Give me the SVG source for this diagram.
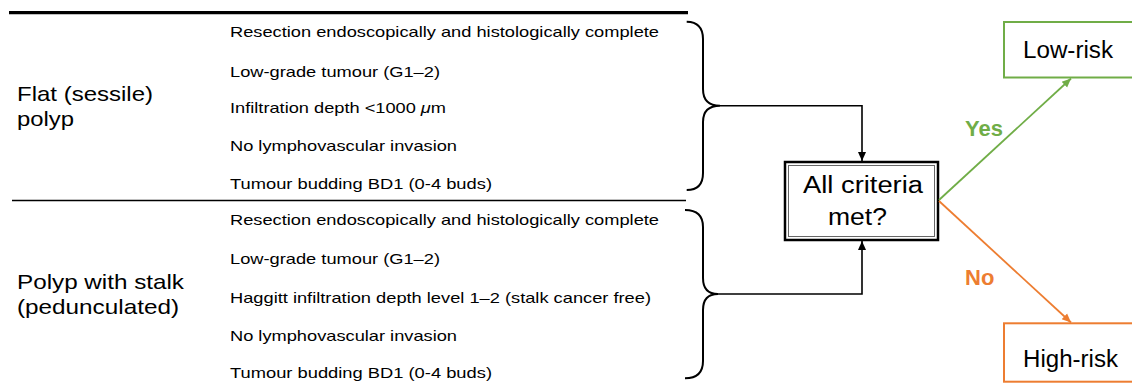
<svg xmlns="http://www.w3.org/2000/svg" width="1132" height="383" viewBox="0 0 1132 383">
<style>
  .sm { font-family: "Liberation Sans", Arial, sans-serif; font-size: 15px; fill: #000; }
  .lg { font-family: "Liberation Sans", Arial, sans-serif; font-size: 21px; fill: #000; }
  .bx { font-family: "Liberation Sans", Arial, sans-serif; font-size: 23px; fill: #000; }
  .lbl { font-family: "Liberation Sans", Arial, sans-serif; font-size: 22px; font-weight: bold; }
  .brace { fill: none; stroke: #000; stroke-width: 2; }
  .conn { fill: none; stroke: #000; stroke-width: 1.6; }
</style>
<defs>
  <marker id="ab" markerUnits="userSpaceOnUse" markerWidth="10" markerHeight="10" refX="9" refY="5" orient="auto">
    <path d="M0,1 L9,5 L0,9 Z" fill="#000"/>
  </marker>
  <marker id="ag" markerUnits="userSpaceOnUse" markerWidth="10" markerHeight="10" refX="9" refY="5" orient="auto">
    <path d="M0,1 L9,5 L0,9 Z" fill="#70AD47"/>
  </marker>
  <marker id="ao" markerUnits="userSpaceOnUse" markerWidth="10" markerHeight="10" refX="9" refY="5" orient="auto">
    <path d="M0,1 L9,5 L0,9 Z" fill="#ED7D31"/>
  </marker>
</defs>
<rect width="1132" height="383" fill="#fff"/>

<g id="table">
  <line x1="9" y1="12.7" x2="688" y2="12.7" stroke="#000" stroke-width="3.3"/>
  <line x1="12" y1="200.5" x2="686" y2="200.5" stroke="#000" stroke-width="1.3"/>
</g>

<g id="flat-polyp">
  <text class="lg" x="17" y="100.5" textLength="136" lengthAdjust="spacingAndGlyphs">Flat (sessile)</text>
  <text class="lg" x="17" y="126" textLength="57" lengthAdjust="spacingAndGlyphs">polyp</text>
  <text class="sm" x="230" y="37.3" textLength="429" lengthAdjust="spacingAndGlyphs">Resection endoscopically and histologically complete</text>
  <text class="sm" x="230" y="76.5" textLength="210" lengthAdjust="spacingAndGlyphs">Low-grade tumour (G1–2)</text>
  <text class="sm" x="230" y="113" textLength="216" lengthAdjust="spacingAndGlyphs">Infiltration depth &lt;1000 <tspan font-style="italic">μ</tspan>m</text>
  <text class="sm" x="230" y="151" textLength="227" lengthAdjust="spacingAndGlyphs">No lymphovascular invasion</text>
  <text class="sm" x="230" y="188.5" textLength="262" lengthAdjust="spacingAndGlyphs">Tumour budding BD1 (0-4 buds)</text>
</g>

<g id="stalk-polyp">
  <text class="lg" x="17" y="288.5" textLength="167" lengthAdjust="spacingAndGlyphs">Polyp with stalk</text>
  <text class="lg" x="17" y="314" textLength="162" lengthAdjust="spacingAndGlyphs">(pedunculated)</text>
  <text class="sm" x="230" y="225" textLength="429" lengthAdjust="spacingAndGlyphs">Resection endoscopically and histologically complete</text>
  <text class="sm" x="230" y="264" textLength="210" lengthAdjust="spacingAndGlyphs">Low-grade tumour (G1–2)</text>
  <text class="sm" x="230" y="302.5" textLength="421" lengthAdjust="spacingAndGlyphs">Haggitt infiltration depth level 1–2 (stalk cancer free)</text>
  <text class="sm" x="230" y="341" textLength="227" lengthAdjust="spacingAndGlyphs">No lymphovascular invasion</text>
  <text class="sm" x="230" y="378.3" textLength="262" lengthAdjust="spacingAndGlyphs">Tumour budding BD1 (0-4 buds)</text>
</g>

<g id="braces">
  <path class="brace" d="M686.7,21.7 Q703,22 703,39 L703,89 Q703,105.7 720,105.7 Q703,105.7 703,122 L703,173 Q703,190 686.7,190"/>
  <path class="brace" d="M685,210 Q703,210 703,227 L703,278 Q703,294 718,294 Q703,294 703,310 L703,361 Q703,378.3 685,378.3"/>
</g>

<g id="decision">
  <rect x="785" y="162" width="153" height="78" fill="#fff" stroke="#000" stroke-width="2.5"/>
  <rect x="788.5" y="165.5" width="146" height="71" fill="none" stroke="#666" stroke-width="1"/>
  <text class="bx" x="803" y="192.5" font-size="24" textLength="120" lengthAdjust="spacingAndGlyphs">All criteria</text>
  <text class="bx" x="828" y="225" font-size="24" textLength="59" lengthAdjust="spacingAndGlyphs">met?</text>
</g>

<g id="low-risk">
  <rect x="1004" y="22" width="132" height="55.5" fill="#fff" stroke="#70AD47" stroke-width="2"/>
  <text class="bx" x="1023" y="58.3" textLength="90" lengthAdjust="spacingAndGlyphs">Low-risk</text>
</g>

<g id="high-risk">
  <rect x="1004" y="323.3" width="132" height="58.4" fill="#fff" stroke="#ED7D31" stroke-width="2"/>
  <text class="bx" x="1023" y="366.7" textLength="95" lengthAdjust="spacingAndGlyphs">High-risk</text>
</g>

<g id="connectors">
  <path class="conn" d="M720,105.7 L862,105.7 L862,161" marker-end="url(#ab)"/>
  <path class="conn" d="M718,294 L862,294 L862,241" marker-end="url(#ab)"/>
  <line x1="939" y1="200" x2="1071" y2="78.5" stroke="#70AD47" stroke-width="1.8" marker-end="url(#ag)"/>
  <line x1="939" y1="201" x2="1071" y2="322.5" stroke="#ED7D31" stroke-width="1.8" marker-end="url(#ao)"/>
  <text class="lbl" x="965" y="135.6" fill="#70AD47">Yes</text>
  <text class="lbl" x="965" y="285" fill="#ED7D31">No</text>
</g>
</svg>
